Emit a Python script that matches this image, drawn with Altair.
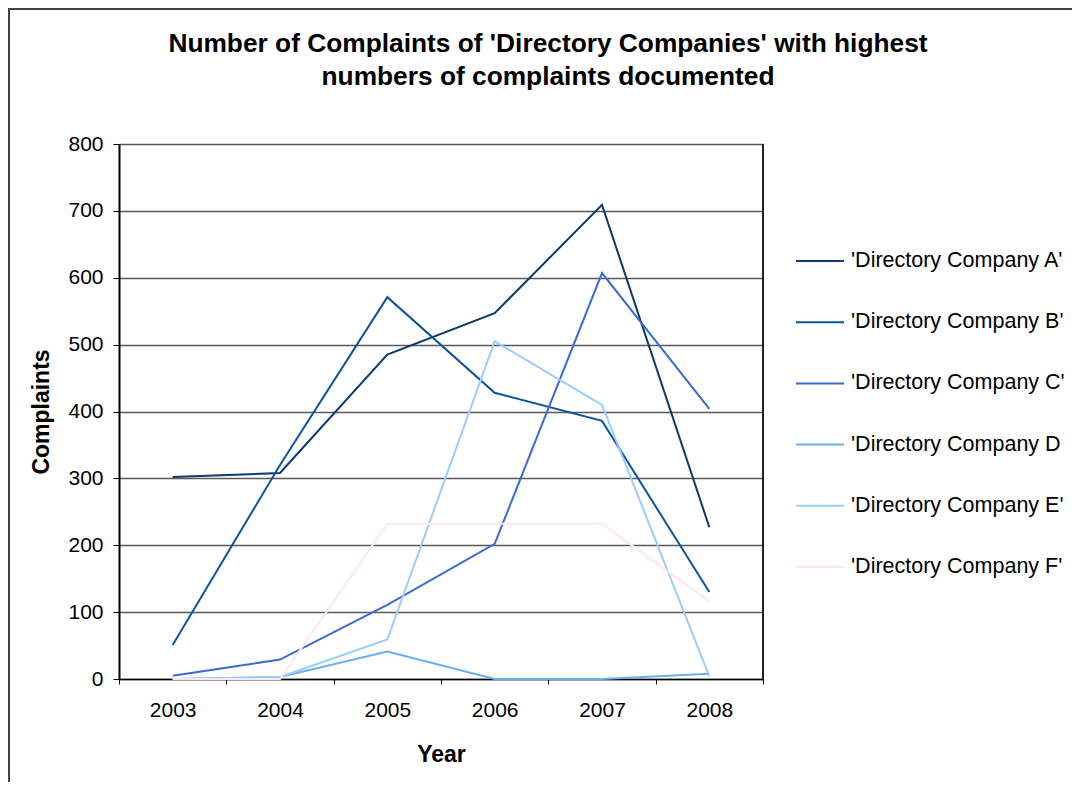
import altair as alt
import pandas as pd

years = ["2003", "2004", "2005", "2006", "2007", "2008"]
series_names = [
    "'Directory Company A'",
    "'Directory Company B'",
    "'Directory Company C'",
    "'Directory Company D",
    "'Directory Company E'",
    "'Directory Company F'",
]
company_a = [302, 308, 485, 547, 709, 227]
company_b = [51, 320, 571, 428, 386, 130]
company_c = [5, 29, 111, 202, 607, 404]
company_d = [0, 3, 41, 0, 0, 8]
company_e = [0, 3, 59, 505, 410, 4]
company_f = [0, 0, 232, 232, 232, 116]
colors = ["#0A3A6E", "#0B54A0", "#3A6AD4", "#6AAEF5", "#99CCFF", "#FFE6F2"]

all_series = [company_a, company_b, company_c, company_d, company_e, company_f]
rows = []
for name, vals in zip(series_names, all_series):
    for y, v in zip(years, vals):
        rows.append({"Year": y, "Complaints": v, "Company": name})
df = pd.DataFrame(rows)

FONT = "Liberation Sans"
W, H = 644, 535
PAD_L, PAD_T, PAD_R, PAD_B = 111, 136, 309, 103

lines = alt.Chart(df).mark_line(strokeWidth=2).encode(
    x=alt.X(
        "Year:O",
        scale=alt.Scale(type="band", paddingInner=0, paddingOuter=0),
        bandPosition=0.5,
        axis=alt.Axis(
            title="Year",
            labelAngle=0,
            tickBand="extent",
            tickSize=5,
            tickColor="#000000",
            domainColor="#000000",
            domainWidth=1.5,
            labelFontSize=21,
            labelFont=FONT,
            labelColor="#000000",
            labelPadding=15,
            titleFont=FONT,
            titleFontSize=23,
            titleFontWeight="bold",
            titleColor="#000000",
            titlePadding=23,
            grid=False,
        ),
    ),
    y=alt.Y(
        "Complaints:Q",
        scale=alt.Scale(domain=[0, 800], nice=False),
        axis=alt.Axis(
            title="Complaints",
            values=[0, 100, 200, 300, 400, 500, 600, 700, 800],
            tickSize=6,
            tickColor="#000000",
            domainColor="#000000",
            domainWidth=2,
            labelFontSize=21,
            labelFont=FONT,
            labelColor="#000000",
            labelPadding=10,
            titleFont=FONT,
            titleFontSize=23,
            titleFontWeight="bold",
            titleColor="#000000",
            titlePadding=14,
            grid=True,
            gridColor="#5a5a5a",
            gridWidth=1.5,
        ),
    ),
    color=alt.Color(
        "Company:N",
        scale=alt.Scale(domain=series_names, range=colors),
        sort=series_names,
        legend=alt.Legend(
            title=None,
            orient="none",
            legendX=676,
            legendY=92,
            symbolType="stroke",
            symbolSize=2304,
            symbolStrokeWidth=2,
            labelFontSize=21.5,
            labelFont=FONT,
            labelColor="#000000",
            labelOffset=6,
            labelLimit=400,
            rowPadding=25.2,
        ),
    ),
    order=alt.Order("Company:N", sort="descending"),
)

frame_left = alt.Chart(df).mark_rule(color="#444444", strokeWidth=1.5).encode(
    x=alt.value(-PAD_L + 0.75), y=alt.value(-PAD_T), y2=alt.value(H + PAD_B)
)
frame_top = alt.Chart(df).mark_rule(color="#444444", strokeWidth=1.5).encode(
    x=alt.value(-PAD_L), x2=alt.value(W + PAD_R), y=alt.value(-PAD_T + 0.75)
)
plot_right = alt.Chart(df).mark_rule(color="#222222", strokeWidth=1.5).encode(
    x=alt.value(W), y=alt.value(0), y2=alt.value(H)
)

chart = alt.layer(lines, plot_right, frame_left, frame_top).properties(
    width=W,
    height=H,
    title=alt.TitleParams(
        text=[
            "Number of Complaints of 'Directory Companies' with highest",
            "numbers of complaints documented",
        ],
        font=FONT,
        fontSize=26.3,
        fontWeight="bold",
        color="#000000",
        lineHeight=33,
        anchor="middle",
        dx=107,
        offset=-83,
    ),
    autosize=alt.AutoSizeParams(type="none"),
    padding={"left": PAD_L, "top": PAD_T, "right": PAD_R, "bottom": PAD_B},
).configure_view(
    fill="#D3D3D3", stroke="#222222", strokeWidth=1.5
).configure(background="#FFFFFF")

chart.save("out.html", embed_options={"renderer": "svg", "actions": False})
